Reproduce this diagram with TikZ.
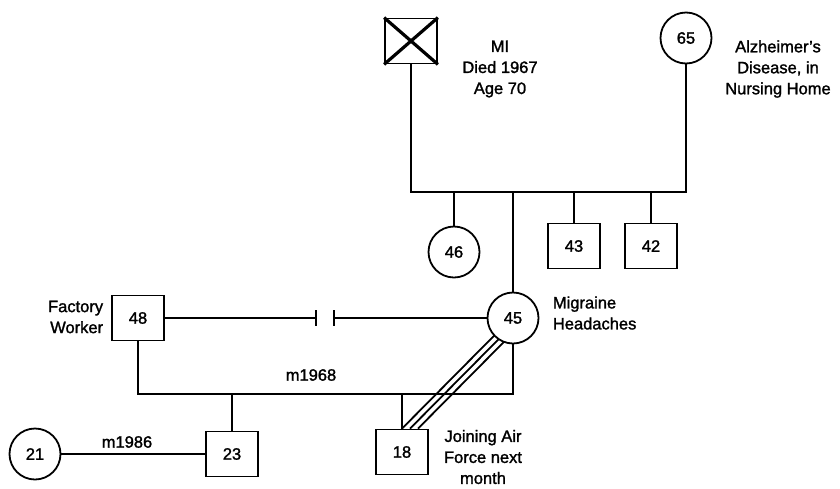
\documentclass[tikz,border=0pt]{standalone}
\usepackage{fontspec}
\setmainfont{Liberation Sans}
\newfontfamily\labfont{Liberation Sans}[Ligatures=TeX, FakeBold=1.5]
\usetikzlibrary{calc,backgrounds}
\begin{document}
\begin{tikzpicture}[x=1pt,y=-1pt, line width=1.8pt,
  male/.style={draw, line width=1.8pt, rectangle, minimum width=52pt, minimum height=45pt, inner sep=0pt, fill=white, font=\labfont\fontsize{16.5}{20}\selectfont},
  female/.style={draw, line width=1.8pt, circle, minimum size=51pt, inner sep=0pt, fill=white, font=\labfont\fontsize{16.5}{20}\selectfont},
  txt/.style={font=\labfont\fontsize{16.5}{21}\selectfont, align=center, inner sep=0pt},
  tie/.style={line width=1.8pt}]
\useasboundingbox (0,0) rectangle (840,488);
% people
\node[male] (gf) at (411,41) {};
\draw[line width=3.2pt] (gf.north west) -- (gf.south east) (gf.north east) -- (gf.south west);
\node[female] (gm) at (686,38) {65};
\node[female] (n46) at (454,252) {46};
\node[male] (n43) at (574,246) {43};
\node[male] (n42) at (651,246) {42};
\node[female] (n45) at (513,318) {45};
\node[male] (n48) at (138,318) {48};
\node[male] (n23) at (232,454) {23};
\node[male] (n18) at (402,452) {18};
\node[female] (n21) at (35,454) {21};
% helper coordinates
\coordinate (sibbar) at (0,192);
\coordinate (mbar) at (0,394);
\coordinate (d1) at (316,318);
\coordinate (d2) at (334,318);
% top family
\draw[tie] (gf.south) -- (gf.south |- sibbar) -| (gm.south);
\draw[tie] (n46.north) -- (n46.north |- sibbar);
\draw[tie] (n45.north) -- (n45.north |- sibbar);
\draw[tie] (n43.north) -- (n43.north |- sibbar);
\draw[tie] (n42.north) -- (n42.north |- sibbar);
% divorce
\draw[tie] (n48.east) -- (d1);
\draw[tie] (d2) -- (n45.west);
\draw[tie] ($(d1)+(0,-8)$) -- ($(d1)+(0,8)$);
\draw[tie] ($(d2)+(0,-8)$) -- ($(d2)+(0,8)$);
% marriage and children
\draw[tie] (n48.south) -- (n48.south |- mbar) -| (n45.south);
\draw[tie] (n23.north) -- (n23.north |- mbar);
\draw[tie] (n18.north) -- (n18.north |- mbar);
\draw[tie] (n21.east) -- (n23.west);
% close relationship (triple line)
\begin{scope}[on background layer]
\foreach \dx in {0,8,16}
  \draw[line width=1.8pt] ($(n18.north)+(\dx,0)$) -- ($(n18.north)+(\dx+110,-111)$);
\end{scope}
% labels
\node[txt] (t1) at (500,69) {MI\\Died 1967\\Age 70};
\node[txt] (t2) at (778,69) {Alzheimer's\\Disease, in\\Nursing Home};
\node[txt, align=right, anchor=east] (t3) at (104,317) {Factory\\Worker};
\node[txt, align=left, anchor=west] (t4) at (552,313) {Migraine\\Headaches};
\node[txt] (t5) at (311,375) {m1968};
\node[txt] (t6) at (127,442) {m1986};
\node[txt] (t7) at (483,457) {Joining Air\\Force next\\month};
\end{tikzpicture}
\end{document}
